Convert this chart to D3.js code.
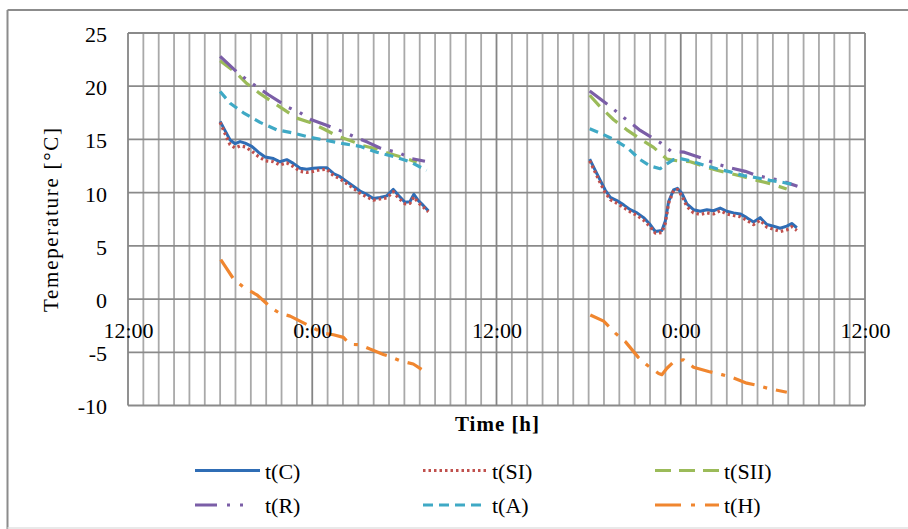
<!DOCTYPE html>
<html>
<head>
<meta charset="utf-8">
<script src="https://cdn.jsdelivr.net/npm/d3@7"></script>
<style>
  html, body { margin: 0; padding: 0; background: #ffffff; }
  svg { display: block; }
  text { font-family: "Liberation Serif", "Times New Roman", serif; fill: #000; }
</style>
</head>
<body>
<svg id="chart" width="908" height="529"></svg>
<script>
// ---------- DATA (hours since first 12:00, temperature °C) ----------
const xTickHours = [0, 12, 24, 36, 48];
const xTickLabels = ["12:00", "0:00", "12:00", "0:00", "12:00"];
const yTickValues = [-10, -5, 0, 5, 10, 15, 20, 25];

const seriesNames = ["t(C)", "t(SI)", "t(SII)", "t(R)", "t(A)", "t(H)"];

// night 1
const tC_1 = [[6.00,16.7],[6.33,15.8],[6.65,14.95],[6.98,14.6],[7.30,14.8],[7.63,14.65],[8.06,14.35],[8.49,13.8],[8.93,13.35],[9.47,13.2],[9.90,12.9],[10.34,13.1],[10.77,12.75],[11.21,12.3],[11.64,12.2],[12.07,12.3],[12.51,12.35],[12.94,12.35],[13.38,11.8],[13.81,11.5],[14.24,11.05],[14.68,10.6],[15.11,10.15],[15.54,9.85],[15.98,9.45],[16.41,9.55],[16.85,9.7],[17.28,10.3],[17.61,9.75],[18.04,9.1],[18.36,9.15],[18.62,9.85],[18.91,9.25],[19.23,8.8],[19.56,8.3]];
const tSI_1 = [[6.00,16.6],[6.33,15.5],[6.65,14.5],[6.98,14.2],[7.30,14.4],[7.63,14.3],[8.06,13.9],[8.49,13.4],[8.93,13.0],[9.47,12.9],[9.90,12.6],[10.34,12.8],[10.77,12.45],[11.21,12.0],[11.64,11.9],[12.07,12.0],[12.51,12.15],[12.94,12.2],[13.38,11.6],[13.81,11.3],[14.24,10.85],[14.68,10.4],[15.11,9.95],[15.54,9.6],[15.98,9.3],[16.41,9.4],[16.85,9.5],[17.28,10.1],[17.61,9.5],[18.04,8.95],[18.36,9.0],[18.62,9.6],[18.91,9.05],[19.23,8.65],[19.56,8.2]];
const tSII_1 = [[6.00,22.4],[7.08,21.2],[7.74,20.25],[8.60,19.3],[9.69,18.25],[10.99,17.0],[11.86,16.6],[12.72,16.0],[13.59,15.35],[14.46,14.9],[15.33,14.4],[16.20,14.1],[17.06,13.65],[17.93,13.3],[18.80,12.85]];
const tR_1 = [[6.00,22.8],[7.19,21.2],[7.84,20.5],[9.15,19.2],[10.45,18.0],[11.16,17.55],[11.86,16.9],[12.62,16.5],[14.13,15.65],[14.83,15.2],[15.59,14.75],[16.41,14.2],[17.71,13.7],[18.47,13.2],[19.34,12.95]];
const tA_1 = [[6.00,19.5],[6.65,18.4],[7.52,17.5],[8.60,16.6],[9.69,15.9],[10.77,15.6],[11.86,15.2],[12.94,14.9],[14.03,14.6],[15.11,14.35],[16.20,13.8],[17.28,13.4],[18.36,12.9],[19.45,12.1]];
const tH_1 = [[6.04,3.7],[6.43,2.85],[6.87,1.9],[7.58,1.05],[8.39,0.4],[9.36,-0.85],[9.90,-1.35],[10.56,-1.6],[11.86,-2.55],[12.72,-3.2],[13.38,-3.35],[14.03,-3.6],[14.46,-4.25],[15.11,-4.3],[15.76,-4.7],[16.63,-5.2],[17.24,-5.5],[17.71,-5.8],[18.58,-6.1],[19.12,-6.6]];

// night 2
const tC_2 = [[30.07,13.15],[30.43,12.1],[30.76,11.15],[31.08,10.25],[31.41,9.55],[31.84,9.25],[32.28,8.85],[32.71,8.4],[33.15,8.1],[33.58,7.65],[34.01,7.0],[34.34,6.35],[34.77,6.45],[34.99,7.3],[35.21,9.15],[35.53,10.25],[35.79,10.4],[36.07,9.95],[36.40,8.95],[36.83,8.4],[37.27,8.25],[37.70,8.4],[38.13,8.3],[38.57,8.55],[39.00,8.25],[39.44,8.1],[39.87,8.0],[40.30,7.65],[40.74,7.25],[41.17,7.65],[41.61,7.0],[42.04,6.85],[42.47,6.65],[42.91,6.85],[43.23,7.1],[43.56,6.7]];
const tSI_2 = [[30.07,13.0],[30.43,11.9],[30.76,10.9],[31.08,10.0],[31.41,9.35],[31.84,9.0],[32.28,8.6],[32.71,8.2],[33.15,7.85],[33.58,7.4],[34.01,6.8],[34.34,6.2],[34.77,6.25],[34.99,7.1],[35.21,9.0],[35.53,10.2],[35.79,10.3],[36.07,9.7],[36.40,8.7],[36.83,8.1],[37.27,7.95],[37.70,8.1],[38.13,8.0],[38.57,8.3],[39.00,8.0],[39.44,7.85],[39.87,7.75],[40.30,7.4],[40.74,7.0],[41.17,7.4],[41.61,6.75],[42.04,6.55],[42.47,6.35],[42.91,6.5],[43.23,6.8],[43.56,6.45]];
const tSII_2 = [[30.07,19.15],[30.76,18.05],[31.63,16.85],[32.49,15.9],[33.36,15.05],[34.23,14.25],[35.10,13.15],[35.75,13.0],[36.62,12.9],[37.48,12.5],[38.35,12.1],[39.22,11.8],[40.09,11.5],[40.95,11.15],[41.82,10.85],[42.90,10.35]];
const tR_2 = [[30.07,19.55],[31.41,18.1],[32.02,17.35],[32.71,16.6],[33.36,15.85],[34.66,14.7],[35.36,13.9],[36.23,13.8],[37.05,13.4],[38.57,12.6],[39.33,12.3],[40.20,12.0],[40.95,11.6],[42.47,11.15],[43.60,10.6]];
const tA_2 = [[30.07,16.0],[30.76,15.6],[31.63,15.0],[32.49,14.25],[33.36,13.1],[34.01,12.5],[34.66,12.25],[35.10,12.7],[35.53,13.1],[35.97,13.2],[36.62,13.0],[37.48,12.6],[38.35,12.25],[39.22,11.95],[40.09,11.6],[40.95,11.4],[41.82,11.15],[42.69,10.95],[43.56,10.7]];
const tH_2 = [[30.11,-1.5],[30.98,-2.07],[31.74,-3.2],[32.39,-4.0],[33.25,-5.5],[33.80,-6.2],[34.56,-7.0],[34.77,-7.1],[35.10,-6.5],[35.53,-5.9],[36.18,-5.7],[36.83,-6.4],[37.81,-6.8],[38.68,-7.1],[39.22,-7.3],[40.30,-7.9],[40.95,-8.1],[41.71,-8.4],[42.91,-8.75]];

// ---------- STYLES ----------
const styles = {
  "t(C)":   { color: "#2F6DB5", dash: null },
  "t(SI)":  { color: "#C0504D", dash: "2.5,3" },
  "t(SII)": { color: "#9BBB59", dash: "15,9" },
  "t(R)":   { color: "#7B5EA7", dash: "22,9,3,9,3,9" },
  "t(A)":   { color: "#3FA9C5", dash: "9,6" },
  "t(H)":   { color: "#F0862F", dash: "22,9,4,9" }
};
const seriesData = {
  "t(C)": [tC_1, tC_2],
  "t(SI)": [tSI_1, tSI_2],
  "t(SII)": [tSII_1, tSII_2],
  "t(R)": [tR_1, tR_2],
  "t(A)": [tA_1, tA_2],
  "t(H)": [tH_1, tH_2]
};

// ---------- DRAW ----------
const svg = d3.select("#chart");
const x = d3.scaleLinear().domain([0, 48]).range([128, 865]);
const y = d3.scaleLinear().domain([-10, 25]).range([405.5, 33]);

// outer chart border
svg.append("line").attr("x1", 7.5).attr("x2", 908).attr("y1", 10).attr("y2", 10)
  .attr("stroke", "#8c8c8c").attr("stroke-width", 2);
svg.append("line").attr("x1", 7.5).attr("x2", 7.5).attr("y1", 10).attr("y2", 529)
  .attr("stroke", "#8c8c8c").attr("stroke-width", 2);
svg.append("line").attr("x1", 7.5).attr("x2", 908).attr("y1", 528).attr("y2", 528)
  .attr("stroke", "#e2e2e2").attr("stroke-width", 1.5);

// vertical grid (every hour; darker every 12 h)
const hours = d3.range(0, 49);
svg.append("g").selectAll("line").data(hours.filter(h => h % 12 !== 0)).join("line")
  .attr("x1", d => x(d)).attr("x2", d => x(d))
  .attr("y1", y(25)).attr("y2", y(-10))
  .attr("stroke", "#a9a9a9").attr("stroke-width", 1.8);
// horizontal grid
svg.append("g").selectAll("line").data(yTickValues).join("line")
  .attr("x1", x(0)).attr("x2", x(48))
  .attr("y1", d => y(d)).attr("y2", d => y(d))
  .attr("stroke", "#8a8a8a").attr("stroke-width", 1.8);
svg.append("g").selectAll("line").data(xTickHours).join("line")
  .attr("x1", d => x(d)).attr("x2", d => x(d))
  .attr("y1", y(25)).attr("y2", y(-10))
  .attr("stroke", "#858585").attr("stroke-width", 1.8);

// series
const line = d3.line().x(d => x(d[0])).y(d => y(d[1]));
const gSeries = svg.append("g");
seriesNames.forEach(name => {
  const st = styles[name];
  seriesData[name].forEach(seg => {
    gSeries.append("path")
      .attr("d", line(seg))
      .attr("fill", "none")
      .attr("stroke", st.color)
      .attr("stroke-width", name === "t(C)" ? 3 : 3.2)
      .attr("stroke-linejoin", "round")
      .attr("stroke-dasharray", st.dash);
  });
});

// y axis labels
const yAxis = d3.axisLeft(y).tickValues(yTickValues).tickFormat(d => String(d))
  .tickSize(0).tickPadding(21);
const gy = svg.append("g").attr("transform", `translate(${x(0)},0)`).call(yAxis);
gy.select(".domain").remove();
gy.selectAll("text").attr("font-size", 22).attr("dy", "0.38em")
  .style("font-family", '"Liberation Serif", "Times New Roman", serif').attr("fill", "#000");

// x axis labels (axis crosses at 0)
const xAxis = d3.axisBottom(x).tickValues(xTickHours)
  .tickFormat((d, i) => xTickLabels[i]).tickSize(0).tickPadding(23);
const gx = svg.append("g").attr("transform", `translate(0,${y(0)})`).call(xAxis);
gx.select(".domain").remove();
gx.selectAll("text").attr("font-size", 22)
  .style("font-family", '"Liberation Serif", "Times New Roman", serif').attr("fill", "#000");

// axis titles
svg.append("text")
  .attr("x", 497).attr("y", 431)
  .attr("text-anchor", "middle")
  .attr("font-size", 21).attr("font-weight", "bold")
  .attr("textLength", 84).attr("lengthAdjust", "spacing")
  .text("Time [h]");
svg.append("text")
  .attr("transform", "translate(58,220) rotate(-90)")
  .attr("text-anchor", "middle")
  .attr("font-size", 21)
  .attr("textLength", 184).attr("lengthAdjust", "spacing")
  .text("Temeperature [°C]");

// legend
const legendItems = [
  { name: "t(C)",   x1: 195, x2: 260, ty: 0 },
  { name: "t(SI)",  x1: 423, x2: 487, ty: 0 },
  { name: "t(SII)", x1: 655, x2: 719, ty: 0 },
  { name: "t(R)",   x1: 195, x2: 260, ty: 1 },
  { name: "t(A)",   x1: 423, x2: 487, ty: 1 },
  { name: "t(H)",   x1: 655, x2: 719, ty: 1 }
];
const legendDash = {
  "t(C)": null, "t(SI)": "2.5,3", "t(SII)": "16,8", "t(R)": "22,10,3,10,3,30",
  "t(A)": "10,6", "t(H)": "26,10,4,10"
};
const rowY = [470.5, 505];
const gl = svg.append("g");
legendItems.forEach(it => {
  const yy = rowY[it.ty];
  gl.append("line")
    .attr("x1", it.x1).attr("x2", it.x2).attr("y1", yy).attr("y2", yy)
    .attr("stroke", styles[it.name].color).attr("stroke-width", 3.2)
    .attr("stroke-dasharray", legendDash[it.name]);
  gl.append("text")
    .attr("x", it.x2 + 5).attr("y", yy + 8)
    .attr("font-size", 22)
    .text(it.name);
});
</script>
</body>
</html>
